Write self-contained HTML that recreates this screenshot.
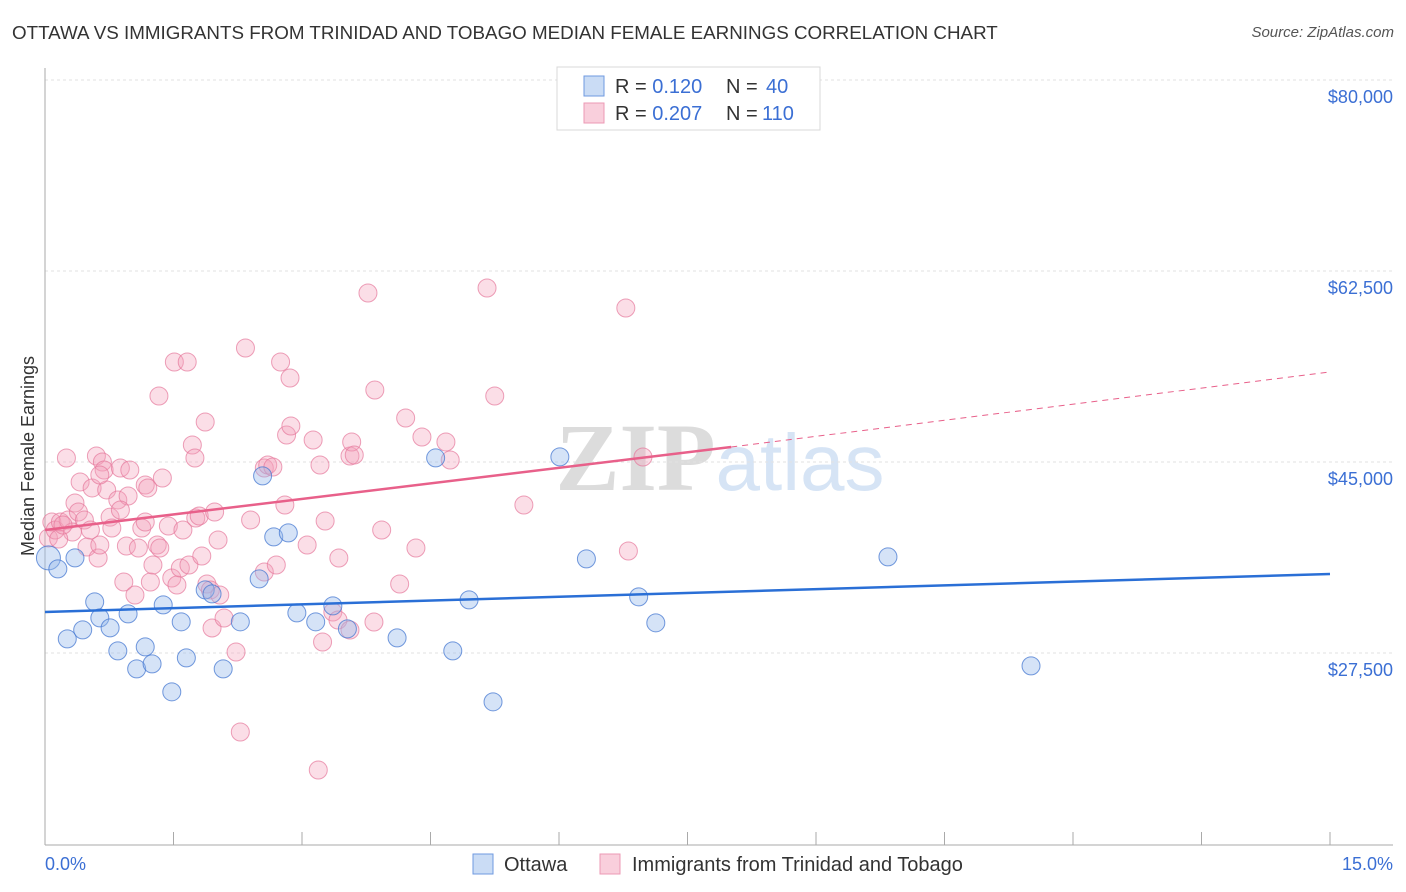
<!DOCTYPE html>
<html><head><meta charset="utf-8">
<style>
body{margin:0;background:#fff;font-family:"Liberation Sans",sans-serif;}
#wrap{position:relative;width:1406px;height:892px;overflow:hidden;}
.title{position:absolute;left:12px;top:22px;font-size:18.8px;color:#333;}
.source{position:absolute;right:12px;top:24px;font-size:15px;color:#555;font-style:italic;}
</style></head><body>
<div id="wrap">
<div class="title">OTTAWA VS IMMIGRANTS FROM TRINIDAD AND TOBAGO MEDIAN FEMALE EARNINGS CORRELATION CHART</div>
<div class="source">Source: ZipAtlas.com</div>
<svg id="chart" width="1406" height="892" style="position:absolute;left:0;top:0"></svg>
</div>
<script>
const yTicks=[80000,62500,45000,27500];
const yTickLabels=["$80,000","$62,500","$45,000","$27,500"];
const xMin=0, xMax=15;
const blueX=[0.04,0.15,0.35,0.58,0.26,0.44,0.64,0.76,0.97,0.85,1.17,1.07,1.25,1.38,1.48,1.59,1.65,1.87,1.95,2.08,2.28,2.54,2.50,2.67,2.84,2.94,3.16,3.36,3.53,4.11,4.56,4.76,4.95,5.23,6.01,6.32,6.93,7.13,9.84,11.51];
const blueY=[36215,35207,36215,32185,28796,29620,30721,29805,31087,27696,28063,26048,26506,31910,23942,30355,27056,33284,32918,26048,30355,43726,34292,38139,38505,31177,30355,31818,29712,28888,45375,27696,32368,23026,45467,36124,32643,30263,36307,26323];
const pinkX=[0.04,0.08,0.12,0.18,0.25,0.27,0.32,0.35,0.39,0.41,0.46,0.49,0.53,0.55,0.60,0.62,0.67,0.69,0.72,0.76,0.78,0.85,0.88,0.92,0.95,0.97,0.99,1.05,1.09,1.13,1.17,1.20,1.23,1.26,1.31,1.33,1.37,1.44,1.48,1.51,1.54,1.58,1.61,1.66,1.68,1.72,1.75,1.76,1.80,1.83,1.87,1.89,1.93,1.95,1.98,2.02,2.04,2.09,2.23,2.28,2.34,2.40,2.56,2.56,2.60,2.66,2.70,2.75,2.80,2.82,2.86,2.87,3.06,3.13,3.19,3.21,3.24,3.27,3.36,3.42,3.43,3.56,3.56,3.58,3.61,3.77,3.84,3.85,3.93,4.14,4.21,4.33,4.40,4.68,4.73,5.16,5.25,5.59,6.78,6.81,6.98,0.16,0.21,0.64,1.17,1.34,0.64,0.88];
const pinkY=[38040,39504,38771,39504,45368,39687,38588,41245,40420,43171,39687,37214,38771,42621,45551,36206,45001,44268,42438,39946,38955,41520,44451,34007,37305,41886,44268,32816,37122,38955,42894,42621,34007,35564,37397,51048,43535,39138,34374,54163,33732,35289,38771,54163,35564,46559,45368,39870,40054,36389,48666,33824,33274,29793,40420,37855,32816,30709,27594,20263,55446,39687,34924,44451,44727,44543,35564,54163,41062,47475,52697,48299,37397,47016,16782,44727,28510,39596,31258,30525,36206,29609,45551,46833,45642,60485,30342,51598,38771,33824,49033,37122,47291,46833,45185,60943,51048,41062,59111,36847,45459,37947,39229,37397,39504,37122,43810,40603];
const blueTrendX=[0,15], blueTrendY=[31258,34740];
const pinkTrendX=[0,8.01,15], pinkTrendY=[38771,46376,53247];

const L=45,R=1330,T80=80;
const sx=v=>L+(v-xMin)/(xMax-xMin)*(R-L);
const sy=v=>T80+(80000-v)/17500*191;
const svg=document.getElementById('chart');
const NS='http://www.w3.org/2000/svg';
function mk(tag,attrs,parent){const e=document.createElementNS(NS,tag);for(const k in attrs)e.setAttribute(k,attrs[k]);(parent||svg).appendChild(e);return e;}

const wm=mk('text',{x:720,y:490,'text-anchor':'middle','font-size':96,'font-family':'Liberation Serif, serif',fill:'#e6e6e6'});


wm.innerHTML='<tspan font-weight="bold" fill="#dcdcdc">ZIP</tspan><tspan font-family="Liberation Sans, sans-serif" fill="#d6e4f5" font-size="80">atlas</tspan>';

yTicks.forEach((t,i)=>{
 const g=mk('line',{x1:L,x2:1393,y1:sy(t),y2:sy(t),stroke:'#e2e2e2','stroke-dasharray':'3,3'});
 
 
 const tx=mk('text',{x:1393,y:sy(t)+23,'text-anchor':'end','font-size':18,fill:'#3b6fd4'});
 
 
 tx.textContent=yTickLabels[i];
});
const ya=mk('line',{x1:L,x2:L,y1:68,y2:845,stroke:'#aaa'});


const xa=mk('line',{x1:L,x2:1393,y1:845,y2:845,stroke:'#aaa'});


for(let i=0;i<=10;i++){
 const t=mk('line',{x1:sx(i*1.5),x2:sx(i*1.5),y1:832,y2:845,stroke:'#aaa'});
 
 
}
const xl0=mk('text',{x:45,y:870,'font-size':18,fill:'#3b6fd4'});


xl0.textContent='0.0%';
const xl1=mk('text',{x:1393,y:870,'text-anchor':'end','font-size':18,fill:'#3b6fd4'});


xl1.textContent='15.0%';
const yt=mk('text',{x:34,y:456,'text-anchor':'middle','font-size':18,fill:'#333',transform:'rotate(-90 34 456)'});


yt.textContent='Median Female Earnings';

pinkX.forEach((x,i)=>{
 const c=mk('circle',{cx:sx(x),cy:sy(pinkY[i]),r:9,fill:'rgba(244,160,186,0.35)',stroke:'rgba(230,120,155,0.7)','stroke-width':1});
 
 
});
blueX.forEach((x,i)=>{
 const c=mk('circle',{cx:sx(x),cy:sy(blueY[i]),r:i===0?12:9,fill:'rgba(150,185,235,0.4)',stroke:'rgba(70,120,210,0.75)','stroke-width':1});
 
 
});
const bt=mk('line',{x1:sx(blueTrendX[0]),y1:sy(blueTrendY[0]),x2:sx(blueTrendX[1]),y2:sy(blueTrendY[1]),stroke:'#2a6fd6','stroke-width':2.5});


const pt=mk('line',{x1:sx(pinkTrendX[0]),y1:sy(pinkTrendY[0]),x2:sx(pinkTrendX[1]),y2:sy(pinkTrendY[1]),stroke:'#e8608a','stroke-width':2.5});


const pd=mk('line',{x1:sx(pinkTrendX[1]),y1:sy(pinkTrendY[1]),x2:sx(pinkTrendX[2]),y2:sy(pinkTrendY[2]),stroke:'#e8608a','stroke-width':1,'stroke-dasharray':'6,5'});



const lg=mk('g',{});


mk('rect',{x:557,y:67,width:263,height:63,fill:'#fff',stroke:'#d8d8d8'},lg);
mk('rect',{x:584,y:76,width:20,height:20,fill:'rgba(150,185,235,0.5)',stroke:'#6f9ae0'},lg);
mk('rect',{x:584,y:103,width:20,height:20,fill:'rgba(244,160,186,0.5)',stroke:'#ec9ab4'},lg);
const l1=mk('text',{x:615,y:93,'font-size':20,fill:'#333'},lg);
l1.innerHTML='R = <tspan fill="#3b6fd4"> 0.120</tspan><tspan x="726">N = </tspan><tspan fill="#3b6fd4" x="766"> 40</tspan>';
const l2=mk('text',{x:615,y:120,'font-size':20,fill:'#333'},lg);
l2.innerHTML='R = <tspan fill="#3b6fd4"> 0.207</tspan><tspan x="726">N = </tspan><tspan fill="#3b6fd4" x="762"> 110</tspan>';

const bl=mk('g',{});


mk('rect',{x:473,y:854,width:20,height:20,fill:'rgba(150,185,235,0.5)',stroke:'#6f9ae0'},bl);
const bt1=mk('text',{x:504,y:871,'font-size':20,fill:'#333'},bl);
bt1.textContent='Ottawa';
mk('rect',{x:600,y:854,width:20,height:20,fill:'rgba(244,160,186,0.5)',stroke:'#ec9ab4'},bl);
const bt2=mk('text',{x:632,y:871,'font-size':20,fill:'#333'},bl);
bt2.textContent='Immigrants from Trinidad and Tobago';
</script>
</body></html>
